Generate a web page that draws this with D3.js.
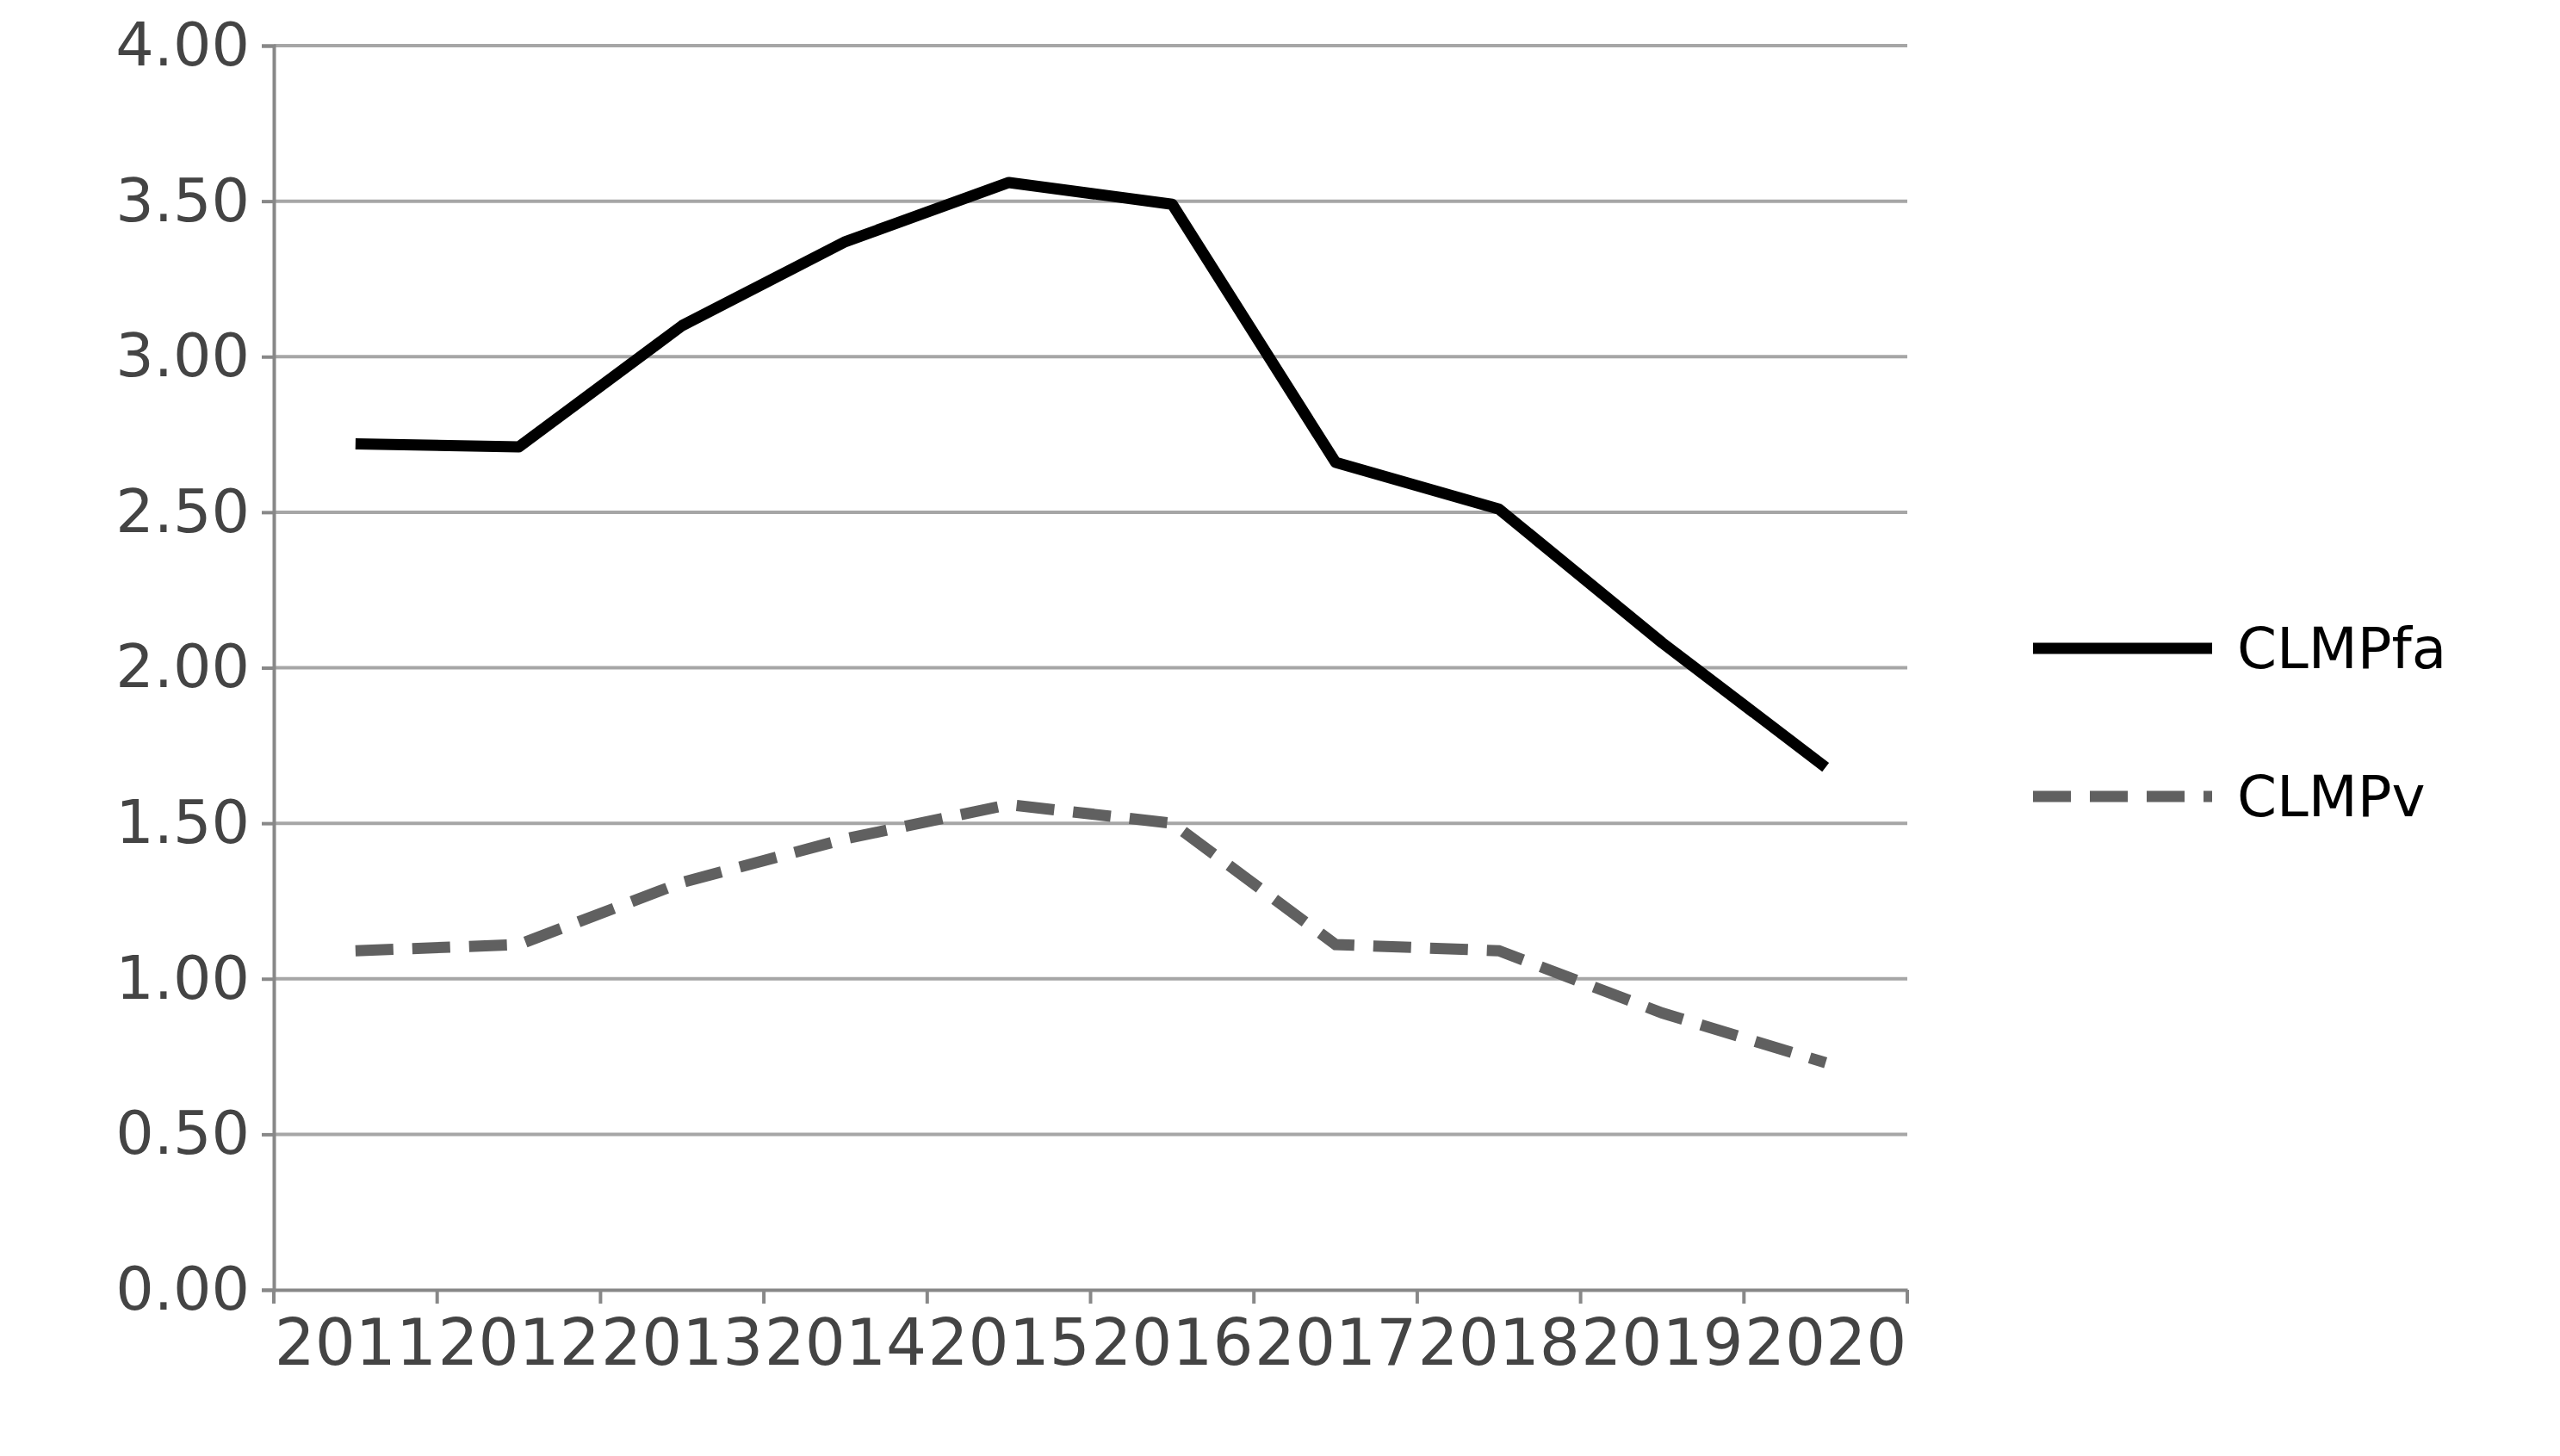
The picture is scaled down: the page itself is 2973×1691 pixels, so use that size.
<!DOCTYPE html>
<html><head><meta charset="utf-8">
<script src="https://cdn.jsdelivr.net/npm/d3@7"></script>
<style>body{margin:0;background:#fff}svg text{font-family:"DejaVu Sans",sans-serif}</style>
</head><body>
<svg id="chart" width="2973" height="1691"></svg>
<script>
var years = ["2011","2012","2013","2014","2015","2016","2017","2018","2019","2020"];
var clmpfa = [2.72, 2.71, 3.10, 3.37, 3.56, 3.49, 2.66, 2.51, 2.08, 1.68];
var clmpv = [1.09, 1.11, 1.31, 1.45, 1.56, 1.50, 1.11, 1.09, 0.89, 0.73];
var yTicks = [0, 0.5, 1, 1.5, 2, 2.5, 3, 3.5, 4];

var svg = d3.select('#chart');
var plotLeft = 318, plotRight = 2215, plotTop = 53, plotBottom = 1498;

var x = d3.scaleBand().domain(years).range([plotLeft, plotRight]);
var y = d3.scaleLinear().domain([0, 4]).range([plotBottom, plotTop]);

// gridlines
svg.append('g').selectAll('line').data(yTicks.slice(1)).enter().append('line')
  .attr('x1', plotLeft).attr('x2', plotRight)
  .attr('y1', function(d) { return y(d); }).attr('y2', function(d) { return y(d); })
  .attr('stroke', '#a6a6a6').attr('stroke-width', 4);

// y axis
var yAxis = svg.append('g').attr('transform', 'translate(' + plotLeft + ',0)')
  .call(d3.axisLeft(y).tickValues(yTicks).tickFormat(d3.format('.2f')).tickSize(14).tickPadding(14));
yAxis.selectAll('text').attr('font-size', 70).attr('fill', '#444');

// x axis
var xAxis = svg.append('g').attr('transform', 'translate(0,' + plotBottom + ')')
  .call(d3.axisBottom(x).tickSize(0).tickPadding(34));
xAxis.selectAll('text').attr('font-size', 74).attr('fill', '#444');
xAxis.selectAll('.tickmark').data(d3.range(years.length + 1)).enter().append('line')
  .attr('class', 'tickmark')
  .attr('x1', function(i) { return plotLeft + i * x.step(); }).attr('x2', function(i) { return plotLeft + i * x.step(); })
  .attr('y1', 0).attr('y2', 16).attr('stroke', '#888').attr('stroke-width', 4);
svg.selectAll('.domain').attr('stroke', '#888').attr('stroke-width', 4);
yAxis.selectAll('.tick line').attr('stroke', '#888').attr('stroke-width', 4);

var line = d3.line()
  .x(function(d, i) { return x(years[i]) + x.bandwidth() / 2; })
  .y(function(d) { return y(d); });

svg.append('path').datum(clmpfa).attr('d', line).attr('fill', 'none')
  .attr('stroke', '#000').attr('stroke-width', 13).attr('stroke-linejoin', 'round');
svg.append('path').datum(clmpv).attr('d', line).attr('fill', 'none')
  .attr('stroke', '#606060').attr('stroke-width', 13).attr('stroke-dasharray', '44,22');

// legend
var legend = [{name: 'CLMPfa', color: '#000', dash: null, y: 753},
              {name: 'CLMPv', color: '#606060', dash: '44,22', y: 925}];
var lg = svg.append('g').selectAll('g').data(legend).enter().append('g');
lg.append('line').attr('x1', 2361).attr('x2', 2569)
  .attr('y1', function(d) { return d.y; }).attr('y2', function(d) { return d.y; })
  .attr('stroke', function(d) { return d.color; }).attr('stroke-width', 13)
  .attr('stroke-dasharray', function(d) { return d.dash; });
lg.append('text').attr('x', 2598).attr('y', function(d) { return d.y; }).attr('dy', '0.35em')
  .attr('font-size', 66).attr('fill', '#000').text(function(d) { return d.name; });
</script>
</body></html>
